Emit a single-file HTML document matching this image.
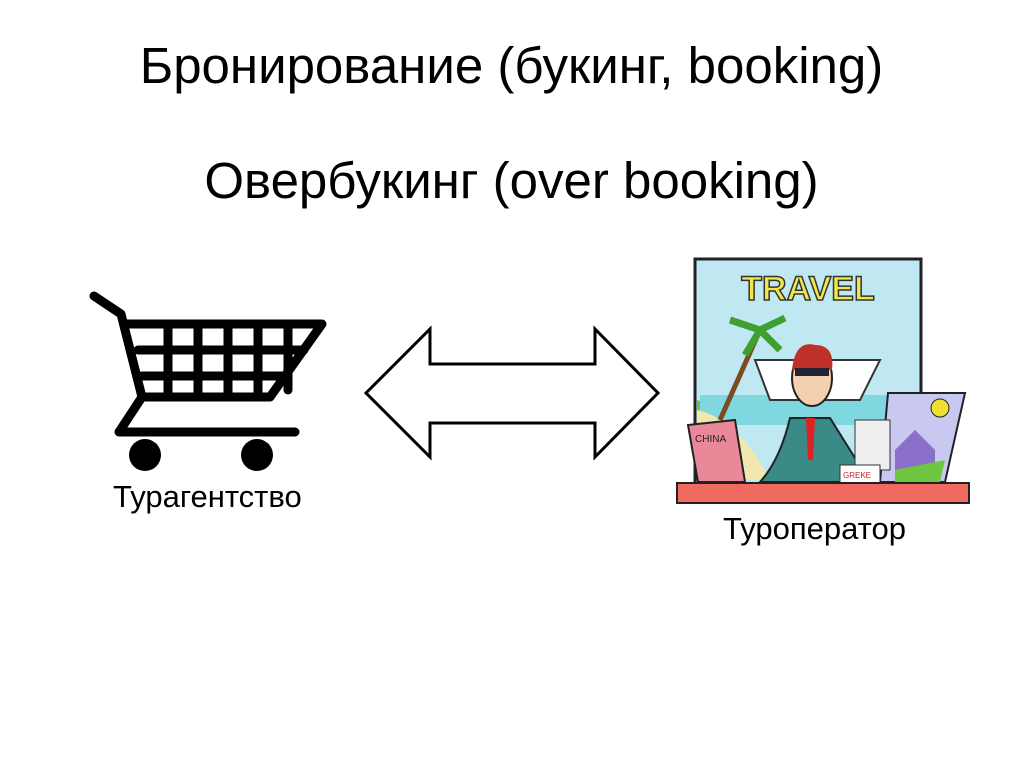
<!DOCTYPE html>
<html><head><meta charset="utf-8"><style>
html,body{margin:0;padding:0;background:#fff;}
body{width:1023px;height:768px;position:relative;overflow:hidden;font-family:"Liberation Sans",sans-serif;}
.t{position:absolute;left:0;width:1023px;text-align:center;font-size:51px;color:#000;white-space:nowrap;}
.l{position:absolute;font-size:31px;color:#000;white-space:nowrap;}
</style></head><body>
<div class="t" style="top:36px;left:0px">Бронирование (букинг, booking)</div>
<div class="t" style="top:151px;left:0px">Овербукинг (over booking)</div>
<div class="l" style="left:113px;top:479px">Турагентство</div>
<div class="l" style="left:723px;top:511px">Туроператор</div>
<svg width="1023" height="768" style="position:absolute;left:0;top:0">
<g stroke="#000" stroke-width="9" stroke-linecap="round" stroke-linejoin="round" fill="none">
<polyline points="94,296 121,314 142,397 270,397 322,324 125,324"/>
<line x1="138" y1="350" x2="304" y2="350"/>
<line x1="142" y1="376" x2="287" y2="376"/>
<line x1="168" y1="326" x2="168" y2="397"/>
<line x1="198" y1="326" x2="198" y2="397"/>
<line x1="228" y1="326" x2="228" y2="397"/>
<line x1="258" y1="326" x2="258" y2="397"/>
<line x1="288" y1="326" x2="288" y2="390"/>
<polyline points="142,397 119,432 295,432"/>
</g>
<circle cx="145" cy="455" r="16" fill="#000"/>
<circle cx="257" cy="455" r="16" fill="#000"/>
<polygon points="366,393 430,329 430,364 595,364 595,329 658,393 595,457 595,423 430,423 430,457" fill="#fff" stroke="#000" stroke-width="3"/>
<!-- travel picture -->
<rect x="695" y="259" width="226" height="228" fill="#bfe8f2" stroke="#222" stroke-width="3"/>
<text x="808" y="300" text-anchor="middle" font-family="Liberation Sans" font-weight="bold" font-size="34" fill="#f0e84a" stroke="#333" stroke-width="1.5">TRAVEL</text>
<path d="M697,400 Q730,410 760,480 L697,480Z" fill="#6ec640"/>
<rect x="700" y="395" width="220" height="30" fill="#7fd8e0"/>
<path d="M697,410 Q740,420 770,480 L697,480Z" fill="#f0e8b0"/>
<path d="M720,420 L760,330" stroke="#7a4a20" stroke-width="5"/>
<path d="M760,330 l-30,-10 M760,330 l25,-12 M760,330 l-15,25 M760,330 l20,20" stroke="#3fa030" stroke-width="7"/>
<path d="M755,360 L880,360 L860,400 L770,400Z" fill="#fff" stroke="#333" stroke-width="2"/>
<path d="M790,418 Q780,460 760,482 L870,482 Q850,450 830,418Z" fill="#3a8a88" stroke="#222" stroke-width="2"/>
<polygon points="806,418 815,418 813,460 808,460" fill="#d22"/>
<ellipse cx="812" cy="378" rx="20" ry="28" fill="#f5d0b0" stroke="#222" stroke-width="2"/>
<path d="M792,370 Q795,340 815,345 Q835,345 832,370Z" fill="#c0302a"/>
<rect x="795" y="368" width="34" height="8" fill="#223"/>
<polygon points="688,425 735,420 745,482 698,482" fill="#e88898" stroke="#222" stroke-width="2"/>
<text x="695" y="442" font-family="Liberation Sans" font-size="10" fill="#222">CHINA</text>
<polygon points="888,393 965,393 945,482 880,482" fill="#c8c8f0" stroke="#222" stroke-width="2"/>
<circle cx="940" cy="408" r="9" fill="#f0e030" stroke="#222"/>
<path d="M895,450 L915,430 L935,450 L935,482 L895,482Z" fill="#8a70c8"/>
<path d="M895,470 L945,460 L940,482 L895,482Z" fill="#6ec640"/>
<rect x="855" y="420" width="35" height="50" fill="#eee" stroke="#333"/>
<rect x="840" y="465" width="40" height="18" fill="#fff" stroke="#333"/>
<text x="843" y="478" font-family="Liberation Sans" font-size="8" fill="#c22">GREKE</text>
<rect x="677" y="483" width="292" height="20" fill="#f06a60" stroke="#222" stroke-width="2"/>
</svg>
</body></html>
